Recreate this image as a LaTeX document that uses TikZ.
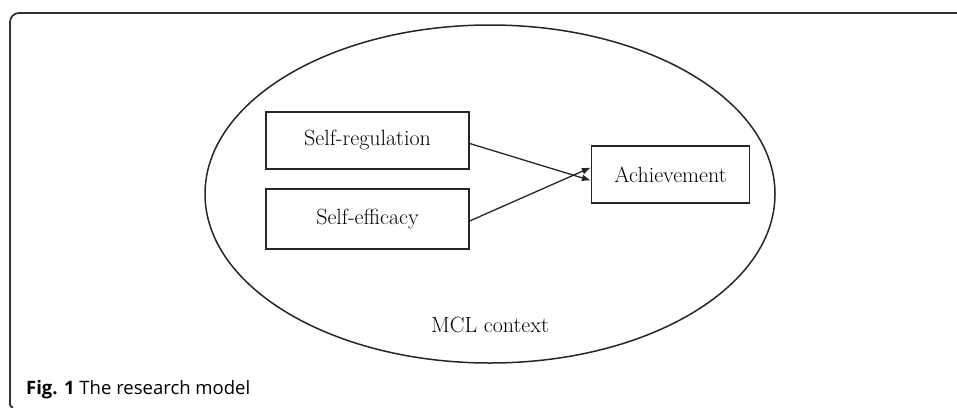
\documentclass[tikz,border=0pt]{standalone}
\usepackage{fontspec}
\newfontfamily\capfont{Open Sans}
\usetikzlibrary{arrows.meta,shapes.geometric}
\begin{document}
\begin{tikzpicture}[x=1pt,y=-1pt,
  frameline/.style={draw=black!80,line width=1.8pt,rounded corners=9pt},
  ctx/.style={draw=black!85,line width=1.5pt},
  varbox/.style={draw=black!85,line width=1.3pt,rectangle,inner sep=0pt,font=\fontsize{22}{24}\selectfont},
  link/.style={draw=black!85,line width=1.3pt,-{Latex[length=9pt,width=7pt]}},
  lbl/.style={font=\fontsize{22}{24}\selectfont,inner sep=0pt}]
\useasboundingbox (0,0) rectangle (957,407);
\begin{scope}
\clip (0,0) rectangle (957,407);
\draw[frameline] (970,13) -- (10,13) -- (10,405);
\draw[black!80,line width=1.8pt] (10,404) to[out=-90,in=180] (13,407.5);
\end{scope}
\node[ctx,ellipse,minimum width=570pt,minimum height=338pt,inner sep=0pt] (ctxe) at (490,194) {};
\node[varbox,minimum width=203pt,minimum height=57pt] (sr) at (367.5,140.5) {Self-regulation};
\node[varbox,minimum width=203pt,minimum height=60pt] (se) at (367.5,219) {Self-efficacy};
\node[varbox,minimum width=158pt,minimum height=57pt] (ach) at (670.5,174.5) {Achievement};
\coordinate (a1) at ([yshift=-6pt]ach.west);
\coordinate (a2) at ([yshift=7pt]ach.west);
\draw[link] ([yshift=-3pt]sr.east) -- (a1);
\draw[link] ([yshift=-2pt]se.east) -- (a2);
\node[lbl] (mcl) at (490,325) {MCL context};
\node[anchor=west,inner sep=0pt,font=\capfont\fontsize{18.5}{20}\selectfont] (cap) at (26,390) {\textbf{Fig. 1} The research model};
\end{tikzpicture}
\end{document}
